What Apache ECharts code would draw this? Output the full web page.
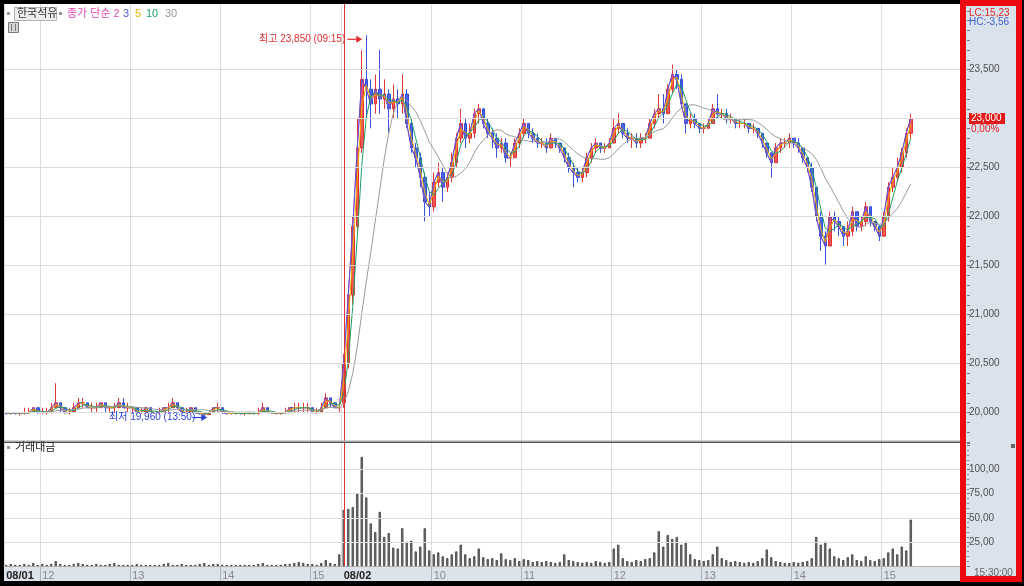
<!DOCTYPE html>
<html><head><meta charset="utf-8">
<script src="https://cdn.jsdelivr.net/npm/echarts@6/dist/echarts.min.js"></script>
<style>html,body{margin:0;padding:0;background:#000;}#c{width:1024px;height:586px;}</style>
</head><body><div id="c"></div>
<script>
// ---------------- data ----------------
const stockName = '한국석유';
const dayLabels = ['08/01', '08/02'];
const day1StartMin = 11 * 60 + 36;   // first visible bar 11:36
const day2StartMin = 9 * 60;         // 09:00
const barMinutes = 3;
const emptySlots = 11;

// [open, close, low, high]
const day1Ohlc = [
  [20000,19990,19980,20000],[19990,20000,19980,20000],[20000,19990,19980,20000],[19990,19990,19970,20000],[19990,20000,19980,20050],
  [20000,20000,19990,20050],[20000,20050,20000,20050],[20050,20000,19990,20050],[20000,20000,19990,20050],[20000,20000,19980,20050],
  [20000,20050,19990,20100],[20050,20100,20050,20300],[20100,20050,20000,20100],[20050,20000,19990,20050],[20000,20000,19980,20050],
  [20000,20050,20000,20100],[20050,20100,20050,20150],[20100,20100,20050,20150],[20100,20050,20050,20100],[20050,20050,20000,20100],
  [20050,20050,20000,20100],[20050,20100,20050,20100],[20100,20050,20000,20100],[20050,20050,20000,20050],[20050,20050,20000,20100],
  [20050,20100,20050,20150],[20100,20050,20050,20150],[20050,20050,20000,20100],[20050,20050,20000,20050],[20050,20000,20000,20050],
  [20000,20000,19990,20050],[20000,20050,19990,20050],[20050,20000,20000,20050],[20000,20000,19990,20000],[20000,20000,19980,20050],
  [20000,20050,20000,20050],[20050,20050,20000,20100],[20050,20100,20050,20150],[20100,20050,20050,20100],[20050,20000,20000,20050],
  [20000,20000,19990,20050],[20000,20050,20000,20050],[20050,20000,19990,20050],[20000,19990,19980,20000],[19990,19980,19960,20000],
  [19980,20000,19980,20000],[20000,20050,20000,20050],[20050,20050,20000,20100],[20050,20000,19990,20050],[20000,19990,19980,20000],
  [19990,19990,19980,20000],[19990,20000,19980,20000],[20000,19990,19980,20000],[19990,19990,19970,20000],[19990,20000,19980,20000],
  [20000,19990,19980,20000],[19990,20000,19980,20050],[20000,20050,20000,20100],[20050,20000,20000,20050],[20000,20000,19990,20000],
  [20000,19990,19980,20000],[19990,20000,19980,20000],[20000,20000,19990,20050],[20000,20050,20000,20050],[20050,20050,20000,20100],
  [20050,20050,20000,20100],[20050,20050,20000,20100],[20050,20050,20000,20100],[20050,20000,20000,20050],[20000,20000,19990,20050],
  [20000,20050,20000,20100],[20050,20150,20050,20200],[20150,20100,20050,20150],[20100,20050,20050,20100],[20050,20050,20000,20100]
];
const day2Ohlc = [
  [20100,20500,20050,20600],[20500,21200,20450,21300],[21200,21900,21100,22000],[21900,22700,21850,23000],[22700,23400,22650,23700],
  [23400,23300,23000,23850],[23300,23150,22900,23400],[23150,23300,23050,23450],[23300,23200,23050,23700],[23200,23250,23100,23400],
  [23250,23100,22850,23300],[23100,23200,23000,23350],[23200,23150,23000,23300],[23150,23250,23050,23450],[23250,22950,22900,23300],
  [22950,22700,22650,23000],[22700,22600,22500,22750],[22600,22400,22300,22650],[22400,22150,21950,22450],[22150,22100,22000,22250],
  [22100,22350,22050,22450],[22350,22450,22300,22550],[22450,22300,22150,22500],[22300,22400,22250,22450],[22400,22550,22350,22650],
  [22550,22800,22500,22850],[22800,22950,22750,23100],[22950,22800,22700,23000],[22800,22850,22750,22950],[22850,23050,22800,23100],
  [23050,23100,22950,23150],[23100,22950,22900,23100],[22950,22850,22800,23000],[22850,22800,22700,22900],[22800,22700,22600,22850],
  [22700,22750,22650,22800],[22750,22600,22550,22800],[22600,22600,22500,22650],[22600,22750,22600,22800],[22750,22850,22700,22900],
  [22850,22950,22800,23000],[22950,22850,22800,22950],[22850,22800,22750,22900],[22800,22750,22700,22850],[22750,22750,22700,22800],
  [22750,22700,22650,22800],[22700,22800,22700,22850],[22800,22750,22700,22800],[22750,22700,22650,22750],[22700,22600,22550,22700],
  [22600,22500,22450,22650],[22500,22450,22300,22550],[22450,22400,22350,22500],[22400,22450,22350,22500],[22450,22600,22400,22650],
  [22600,22700,22550,22750],[22700,22750,22650,22800],[22750,22700,22650,22750],[22700,22700,22650,22750],[22700,22750,22700,22800],
  [22750,22900,22750,23000],[22900,22950,22850,23050],[22950,22850,22800,22950],[22850,22800,22750,22900],[22800,22800,22700,22850],
  [22800,22750,22700,22850],[22750,22800,22700,22850],[22800,22800,22750,22850],[22800,22950,22800,23000],[22950,23050,22900,23100],
  [23050,23100,23000,23250],[23100,23050,22950,23250],[23050,23300,23050,23350],[23300,23450,23250,23550],[23450,23400,23300,23500],
  [23400,23150,23100,23450],[23150,22950,22850,23150],[22950,23000,22900,23050],[23000,22950,22900,23050],[22950,22900,22850,22950],
  [22900,22900,22850,22950],[22900,22950,22900,23000],[22950,23100,22950,23150],[23100,23050,23000,23250],[23050,23050,23000,23100],
  [23050,23000,22950,23100],[23000,23000,22950,23050],[23000,22950,22900,23000],[22950,22950,22900,23000],[22950,22950,22900,23000],
  [22950,22900,22850,22950],[22900,22900,22850,22950],[22900,22850,22800,22900],[22850,22750,22700,22850],[22750,22650,22600,22750],
  [22650,22550,22400,22650],[22550,22700,22550,22750],[22700,22750,22650,22800],[22750,22750,22700,22800],[22750,22800,22700,22850],
  [22800,22750,22700,22800],[22750,22700,22650,22800],[22700,22600,22550,22700],[22600,22500,22450,22600],[22500,22300,22250,22550],
  [22300,22000,21950,22300],[22000,21800,21650,22050],[21800,21700,21510,21850],[21700,22000,21700,22050],[22000,21950,21850,22050],
  [21950,21900,21800,22000],[21900,21800,21700,21900],[21800,21850,21700,21950],[21850,22050,21800,22100],[22050,21900,21850,22050],
  [21900,21950,21850,22000],[21950,22100,21900,22150],[22100,21950,21900,22100],[21950,21900,21850,21950],[21900,21800,21750,21900],
  [21800,22000,21800,22050],[22000,22300,21950,22350],[22300,22400,22250,22500],[22400,22500,22350,22600],[22500,22650,22450,22700],
  [22650,22850,22600,22900],[22850,23000,22800,23050]
];
// trading value (거래대금)
const day1Vol = [
  1,2,1,1,2,1,3,1,2,1, 2,5,2,1,1,2,3,2,1,1, 2,1,1,2,3,1,1,1,1,2, 1,1,1,1,1,2,3,1,1,2,
  1,1,1,2,3,1,2,2,1,1, 1,1,1,1,1,1,2,3,1,1, 1,1,2,2,3,4,3,2,2,1, 3,6,3,2,12
];
const day2Vol = [
  58,59,61,75,113,71,44,35,56,30, 34,19,18,39,25,26,15,20,39,16, 12,14,10,8,12,15,22,12,8,10,
  18,9,7,8,6,13,7,6,8,5, 7,6,4,5,4,5,4,3,4,12, 6,5,4,3,4,3,5,4,3,4,
  18,22,8,5,4,6,5,7,8,14, 36,20,32,28,30,22,25,12,7,6, 5,6,12,20,8,6,4,5,4,3,
  4,3,5,8,17,9,5,4,3,3, 4,3,4,5,8,30,22,25,18,10, 8,6,9,12,6,5,10,6,5,7,
  8,14,18,12,20,16,48
];
const maPeriods = [2, 3, 5, 10, 30];
const maColors = ['#e24cb2', '#5656d6', '#eeb000', '#1fa067', '#9a9a9a'];
const priceTicks = [20000, 20500, 21000, 21500, 22000, 22500, 23000, 23500];
const volTicks = [25, 50, 75, 100];
const lastChange = '0,00%';
const lcText = 'LC:15,23';
const hcText = 'HC:-3,56';
const closeTime = '15:30:00';

// ---------------- build ----------------
function hhmm(m) { return String(Math.floor(m / 60)).padStart(2, '0') + ':' + String(m % 60).padStart(2, '0'); }
const categories = [];
day1Ohlc.forEach((_, i) => categories.push(dayLabels[0] + ' ' + hhmm(day1StartMin + i * barMinutes)));
day2Ohlc.forEach((_, i) => categories.push(dayLabels[1] + ' ' + hhmm(day2StartMin + i * barMinutes)));
for (let i = 0; i < emptySlots; i++) categories.push('pad' + i);

const ohlc = day1Ohlc.concat(day2Ohlc);
const vols = day1Vol.concat(day2Vol);
const closes = ohlc.map(d => d[1]);
const day2Index = day1Ohlc.length;

function labelFor(idx) {
  const c = categories[idx];
  if (!c || c.startsWith('pad')) return null;
  const parts = c.split(' ');
  const prev = categories[idx - 1];
  if (idx === 0 || !prev.startsWith(parts[0])) return { text: parts[0], bold: true };
  if (parts[1].endsWith(':00')) return { text: String(parseInt(parts[1], 10)), bold: false };
  return null;
}
const isHourIdx = i => { const l = labelFor(i); return !!l && !l.bold; };
const isGridIdx = i => !!labelFor(i);

// moving averages on minute periods, resampled to the bar size
function movingAvg(vals, w) {
  return vals.map((_, i) => {
    let sum = 0, wt = 0, rem = w;
    for (let j = i; j >= 0 && rem > 0; j--) { const a = Math.min(1, rem); sum += vals[j] * a; wt += a; rem -= a; }
    return Math.round(sum / wt);
  });
}

const FONT = "'Liberation Sans', 'Noto Sans CJK KR', sans-serif";
const gridLineColor = '#dcdcdc';

const maSeries = maPeriods.map((p, k) => ({
  type: 'line', name: 'MA' + p, xAxisIndex: 0, yAxisIndex: 0,
  data: movingAvg(closes, Math.max(1, p / barMinutes)),
  symbol: 'none', showSymbol: false, z: 4,
  lineStyle: { color: maColors[k], width: 1 }, silent: true
}));

const chart = echarts.init(document.getElementById('c'), null, { renderer: 'canvas' });

const option = {
  animation: false,
  backgroundColor: '#000',
  textStyle: { fontFamily: FONT },
  grid: [
    { left: 4, top: 4, width: 958.5, height: 438, show: true, backgroundColor: '#fff', borderWidth: 0 },
    { left: 4, top: 443, width: 958.5, height: 123, show: true, backgroundColor: '#fff', borderWidth: 0 }
  ],
  xAxis: [
    { type: 'category', gridIndex: 0, data: categories, boundaryGap: true,
      axisLine: { show: false }, axisTick: { show: false }, axisLabel: { show: false },
      splitLine: { show: true, interval: (i) => isGridIdx(i), lineStyle: { color: gridLineColor, width: 1 } } },
    { type: 'category', gridIndex: 1, data: categories, boundaryGap: true,
      axisLine: { show: true, lineStyle: { color: '#b4b4b4' } },
      axisTick: { show: true, interval: (i) => isHourIdx(i), length: 15, lineStyle: { color: '#aab2bc' } },
      axisLabel: { show: true, interval: (i) => isGridIdx(i), align: 'left', margin: 4,
        formatter: (v, i) => { const l = labelFor(i); if (!l) return ''; return l.bold ? '{b|' + l.text + '}' : '{n|' + l.text + '}'; },
        rich: { b: { fontSize: 11, fontWeight: 'bold', color: '#222', fontFamily: FONT },
                n: { fontSize: 11, color: '#8a8a8a', fontFamily: FONT } } },
      splitLine: { show: true, interval: (i) => isGridIdx(i), lineStyle: { color: gridLineColor, width: 1 } } }
  ],
  yAxis: [
    { type: 'value', gridIndex: 0, position: 'right', offset: 4.5, min: 19700, max: 24169, interval: 100,
      axisLine: { show: false }, splitLine: { show: false },
      axisTick: { show: true, length: 3, lineStyle: { color: '#777' } },
      axisLabel: { margin: 2, fontSize: 10, color: '#505050', fontFamily: FONT,
        formatter: v => priceTicks.indexOf(v) >= 0 ? v.toLocaleString('en-US') : '' } },
    { type: 'value', gridIndex: 1, position: 'right', offset: 4.5, min: 0, max: 127.5, interval: 25,
      axisLine: { show: false }, splitLine: { show: false },
      axisTick: { show: true, length: 3, lineStyle: { color: '#777' } },
      minorTick: { show: true, splitNumber: 5, length: 2, lineStyle: { color: '#8a8a8a' } },
      axisLabel: { margin: 2, fontSize: 10, color: '#505050', fontFamily: FONT,
        formatter: v => volTicks.indexOf(v) >= 0 ? v.toFixed(2).replace('.', ',') : '' } }
  ],
  series: [
    { type: 'line', xAxisIndex: 0, yAxisIndex: 0, data: [], z: 1, silent: true,
      markLine: { silent: true, symbol: ['none', 'none'], label: { show: false }, animation: false,
        lineStyle: { color: gridLineColor, type: 'solid', width: 1 },
        data: priceTicks.map(v => ({ yAxis: v })).concat([{ xAxis: categories[day2Index], lineStyle: { color: '#e03434', width: 1, type: 'solid' } }]) } },
    { type: 'candlestick', name: stockName, xAxisIndex: 0, yAxisIndex: 0, data: ohlc, z: 3, barWidth: 3,
      itemStyle: { color: '#f04646', color0: '#3555e6', borderColor: '#e02222', borderColor0: '#2440d8', borderWidth: 1, opacity: 0.9 } },
    ...maSeries,
    { type: 'line', xAxisIndex: 1, yAxisIndex: 1, data: [], z: 1, silent: true,
      markLine: { silent: true, symbol: ['none', 'none'], label: { show: false }, animation: false,
        lineStyle: { color: gridLineColor, type: 'solid', width: 1 },
        data: volTicks.map(v => ({ yAxis: v })).concat([{ xAxis: categories[day2Index], lineStyle: { color: '#e03434', width: 1, type: 'solid' } }]) } },
    { type: 'bar', name: '거래대금', xAxisIndex: 1, yAxisIndex: 1, data: vols, barWidth: 2.2, z: 3,
      itemStyle: { color: '#7c7c7c', borderColor: '#161616', borderWidth: 0.6 } }
  ]
};
chart.setOption(option);

// ---------------- overlays ----------------
let hiIdx = 0, loIdx = 0;
ohlc.forEach((d, i) => { if (d[3] > ohlc[hiIdx][3]) hiIdx = i; if (d[2] < ohlc[loIdx][2]) loIdx = i; });
const hiVal = ohlc[hiIdx][3], loVal = ohlc[loIdx][2];
const fmt = v => v.toLocaleString('en-US');
const hiPt = chart.convertToPixel({ gridIndex: 0 }, [hiIdx, hiVal]);
const loPt = chart.convertToPixel({ gridIndex: 0 }, [loIdx, loVal]);
const lastClose = closes[closes.length - 1];
const lastY = chart.convertToPixel({ yAxisIndex: 0 }, lastClose);

function txt(x, y, text, fill, size, extra) {
  return Object.assign({ type: 'text', z: 101, style: { x: x, y: y, text: text, fill: fill,
    font: (extra && extra.bold ? 'bold ' : '') + size + 'px ' + FONT,
    align: (extra && extra.align) || 'left', verticalAlign: 'middle',
    textAlign: (extra && extra.align) || 'left', textVerticalAlign: 'middle' } });
}
function arrow(tip, color) {
  const tx = tip[0], ty = tip[1];
  return [
    { type: 'line', z: 50, shape: { x1: tx - 15, y1: ty, x2: tx - 4, y2: ty }, style: { stroke: color, lineWidth: 1.2 } },
    { type: 'polygon', z: 50, shape: { points: [[tx, ty], [tx - 6, ty - 3.5], [tx - 6, ty + 3.5]] }, style: { fill: color } }
  ];
}
const hiTip = [hiPt[0] - 4, hiPt[1] + 4];
const loTip = [loPt[0] + 3, loPt[1] + 1];

const graphics = [
  // x-axis label strip
  { type: 'rect', z: -1, shape: { x: 4, y: 566, width: 958.5, height: 15 }, style: { fill: '#dde3ea' } },
  // right axis panel
  { type: 'rect', z: -1, shape: { x: 962.5, y: 3, width: 57, height: 578 }, style: { fill: '#dae2eb' } },
  // panel separator
  { type: 'line', z: 20, shape: { x1: 4, y1: 441.5, x2: 962.5, y2: 441.5 }, style: { stroke: '#a6a6a6', lineWidth: 2 } },
  // top legend
  { type: 'rect', z: 101, shape: { x: 7, y: 12, width: 3, height: 3 }, style: { fill: '#9a9a9a' } },
  { type: 'rect', z: 100, shape: { x: 14.5, y: 7.5, width: 42, height: 13 }, style: { fill: '#ededed', stroke: '#b3b3b3', lineWidth: 1 } },
  txt(17, 14, stockName, '#333', 11),
  { type: 'rect', z: 101, shape: { x: 59, y: 12, width: 3, height: 3 }, style: { fill: '#9a9a9a' } },
  txt(67, 14, '종가 단순 ' + maPeriods[0], maColors[0], 11),
  txt(123, 14, String(maPeriods[1]), maColors[1], 11),
  txt(135, 14, String(maPeriods[2]), maColors[2], 11),
  txt(146, 14, String(maPeriods[3]), maColors[3], 11),
  txt(165, 14, String(maPeriods[4]), maColors[4], 11),
  { type: 'rect', z: 101, shape: { x: 8.5, y: 22.5, width: 10, height: 10 }, style: { fill: '#d6d6d6', stroke: '#7a7a7a', lineWidth: 1 } },
  { type: 'line', z: 102, shape: { x1: 11.5, y1: 24, x2: 11.5, y2: 31 }, style: { stroke: '#7a7a7a', lineWidth: 1 } },
  { type: 'line', z: 102, shape: { x1: 15.5, y1: 24, x2: 15.5, y2: 31 }, style: { stroke: '#7a7a7a', lineWidth: 1 } },
  // volume panel title
  { type: 'rect', z: 101, shape: { x: 7, y: 446, width: 3, height: 3 }, style: { fill: '#9a9a9a' } },
  txt(15, 448, '거래대금', '#222', 11),
  { type: 'rect', z: 101, shape: { x: 1011, y: 444, width: 4, height: 4 }, style: { fill: '#666' } },
  // high / low annotations
  ...arrow(hiTip, '#e03030'),
  txt(hiTip[0] - 17, hiTip[1], '최고 ' + fmt(hiVal) + ' (09:15)', '#e03030', 10, { align: 'right' }),
  ...arrow(loTip, '#2a3fd8'),
  txt(loTip[0] - 12, loTip[1], '최저 ' + fmt(loVal) + ' (13:50)', '#2a3fd8', 10, { align: 'right' }),
  // last price marker
  { type: 'rect', z: 101, shape: { x: 969, y: lastY - 5.5, width: 36, height: 11 }, style: { fill: '#e01a1a' } },
  txt(971, lastY, fmt(lastClose), '#fff', 10),
  txt(971, lastY + 11, lastChange, '#e02020', 10),
  txt(969, 13, lcText, '#e02828', 10),
  txt(969, 22, hcText, '#3a5fd0', 10),
  txt(974, 573, closeTime, '#666', 10),
  // red outline around the right axis
  { type: 'rect', z: 110, shape: { x: 963, y: 3, width: 56, height: 576 }, style: { fill: null, stroke: '#ea0a10', lineWidth: 6 } }
];
chart.setOption({ graphic: graphics });
</script></body></html>
